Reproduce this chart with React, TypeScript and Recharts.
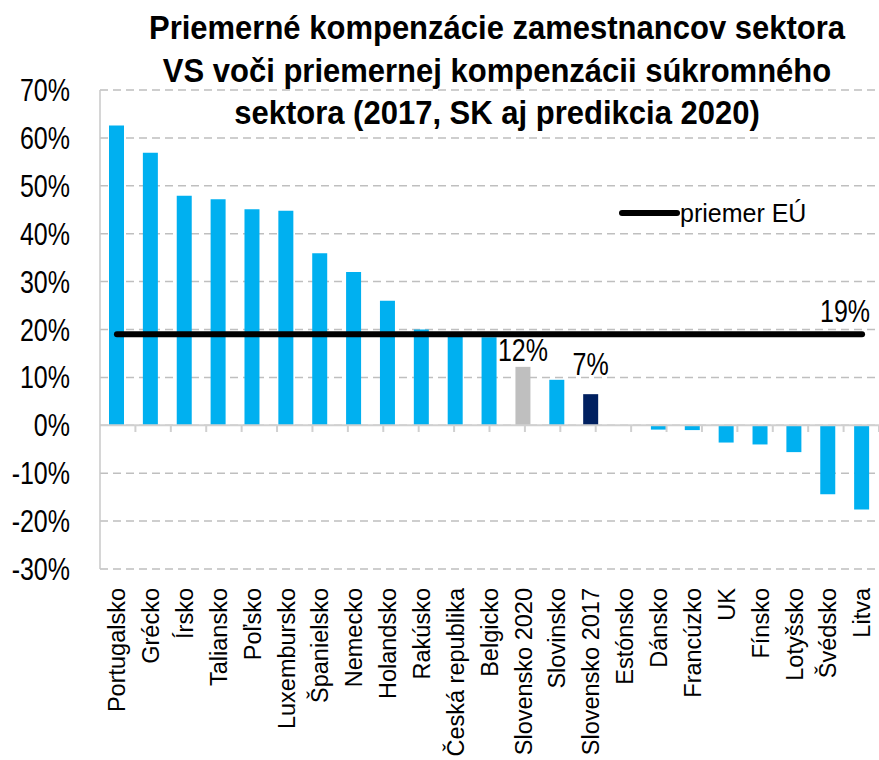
import React from 'react';
import { ComposedChart, Bar, Line, XAxis, YAxis, CartesianGrid, ReferenceLine, Cell, LabelList } from 'recharts';

const categories = [
  'Portugalsko', 'Grécko', 'Írsko', 'Taliansko', 'Poľsko', 'Luxembursko', 'Španielsko', 'Nemecko',
  'Holandsko', 'Rakúsko', 'Česká republika', 'Belgicko', 'Slovensko 2020', 'Slovinsko', 'Slovensko 2017',
  'Estónsko', 'Dánsko', 'Francúzko', 'UK', 'Fínsko', 'Lotyšsko', 'Švédsko', 'Litva',
];
const values = [
  62.6, 56.9, 47.9, 47.2, 45.1, 44.8, 35.9, 32.0,
  26.0, 20.0, 19.4, 18.4, 12.2, 9.5, 6.5,
  0.0, -0.9, -1.0, -3.6, -4.0, -5.6, -14.4, -17.6,
];
const euAverage = 19;
const yTicks = [-30, -20, -10, 0, 10, 20, 30, 40, 50, 60, 70];
const titleLines = [
  'Priemerné kompenzácie zamestnancov sektora',
  'VS voči priemernej kompenzácii súkromného',
  'sektora (2017, SK aj predikcia 2020)',
];
const legendLabel = 'priemer EÚ';

const data = categories.map((name, i) => ({ name, value: values[i], eu: euAverage }));
const boundaryTicks = categories.map((_, i) => i + 1);

const FONT = "'Liberation Sans', Arial, sans-serif";
const BLUE = '#00b0f0';
const colorFor = (name: string) =>
  name === 'Slovensko 2020' ? '#bfbfbf' : name === 'Slovensko 2017' ? '#002060' : BLUE;
const labelOffsets: Record<string, number> = { 'Slovensko 2020': 6, 'Slovensko 2017': 19 };

const StretchText = ({ x, y, anchor, children }: any) => (
  <text
    transform={`translate(${x},${y}) scale(1,1.23)`}
    textAnchor={anchor}
    fontFamily={FONT}
    fontSize={25}
    fill="#000"
  >
    {children}
  </text>
);

const YTick = ({ x, y, payload }: any) => (
  <StretchText x={x} y={y + 11} anchor="end">{`${payload.value}%`}</StretchText>
);

const CatTick = ({ x, y, payload }: any) => (
  <text
    transform={`translate(${x},${y}) rotate(-90)`}
    textAnchor="end"
    dy="0.35em"
    fontFamily={FONT}
    fontSize={23.5}
    fill="#000"
  >
    {payload.value}
  </text>
);

const BarLabel = (props: any) => {
  const { x, y, width, value, index } = props;
  const name = categories[index];
  if (!(name in labelOffsets)) return null;
  return (
    <StretchText x={x + width / 2} y={y - labelOffsets[name]} anchor="middle">
      {`${Math.round(value)}%`}
    </StretchText>
  );
};

const LineLabel = (props: any) => {
  const { x, y, index, value } = props;
  if (index !== categories.length - 1) return null;
  return (
    <StretchText x={x + 8} y={y - 12} anchor="end">{`${value}%`}</StretchText>
  );
};

export default function App() {
  return (
    <div style={{ position: 'relative', width: 879, height: 760 }}>
      <style>{`body{margin:0}`}</style>
      <ComposedChart
        width={879}
        height={760}
        data={data}
        margin={{ top: 90, right: 0, bottom: 0, left: 0 }}
      >
        <CartesianGrid vertical={false} stroke="#bfbfbf" strokeWidth={1.5} strokeDasharray="8 5" />
        <XAxis
          xAxisId="cat"
          dataKey="name"
          interval={0}
          height={191}
          axisLine={false}
          tickLine={false}
          tickSize={0}
          tickMargin={19}
          tick={<CatTick />}
        />
        <XAxis xAxisId="num" type="number" domain={[0, categories.length]} hide />
        <YAxis
          width={100}
          domain={[-30, 70]}
          ticks={yTicks}
          interval={0}
          axisLine={{ stroke: '#c8c8c8', strokeWidth: 1.5 }}
          tickLine={false}
          tickSize={0}
          tickMargin={30}
          tick={<YTick />}
        />
        <ReferenceLine xAxisId="cat" y={0} stroke="#d0d0d0" strokeWidth={2} />
        {boundaryTicks.map((t) => (
          <ReferenceLine
            key={t}
            xAxisId="num"
            segment={[{ x: t, y: 0 }, { x: t, y: -1.4 }]}
            stroke="#d0d0d0"
            strokeWidth={2}
          />
        ))}
        <Bar xAxisId="cat" dataKey="value" barSize={15} isAnimationActive={false}>
          {data.map((d) => (
            <Cell key={d.name} fill={colorFor(d.name)} />
          ))}
          <LabelList dataKey="value" content={<BarLabel />} />
        </Bar>
        <Line
          xAxisId="cat"
          dataKey="eu"
          stroke="#000"
          strokeWidth={6}
          strokeLinecap="round"
          dot={false}
          activeDot={false}
          isAnimationActive={false}
        >
          <LabelList dataKey="eu" content={<LineLabel />} />
        </Line>
      </ComposedChart>

      <div
        style={{
          position: 'absolute',
          left: 97,
          top: 7,
          width: 800,
          textAlign: 'center',
          fontFamily: FONT,
          fontWeight: 'bold',
          fontSize: 31,
          lineHeight: '38.6px',
          color: '#000',
          transform: 'scaleY(1.1)',
          transformOrigin: 'top',
          pointerEvents: 'none',
        }}
      >
        {titleLines.map((l) => (
          <div key={l}>{l}</div>
        ))}
      </div>

      <div
        style={{
          position: 'absolute',
          left: 619,
          top: 199,
          display: 'flex',
          alignItems: 'center',
          height: 28,
          fontFamily: FONT,
          fontSize: 25,
          lineHeight: '28px',
          color: '#000',
        }}
      >
        <svg width={61} height={10} style={{ display: 'block' }}>
          <line x1={3} y1={5} x2={58} y2={5} stroke="#000" strokeWidth={6} strokeLinecap="round" />
        </svg>
        <span>{legendLabel}</span>
      </div>
    </div>
  );
}
